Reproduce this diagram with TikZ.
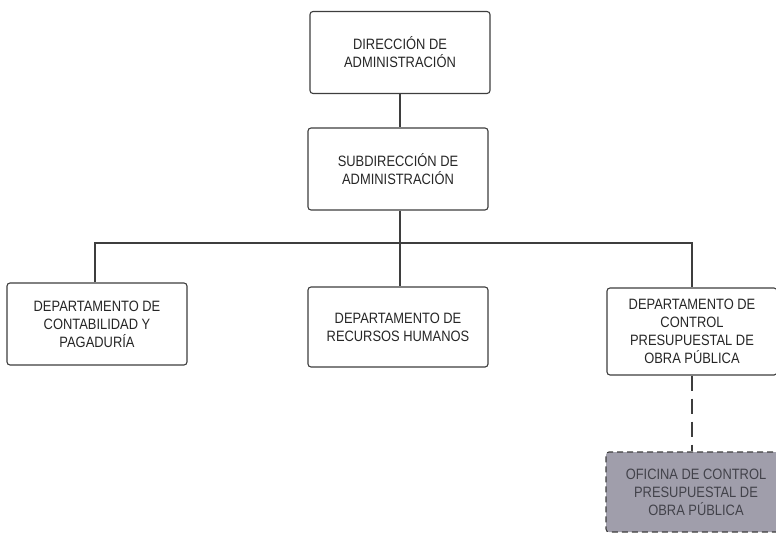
\documentclass[tikz,border=0pt]{standalone}
\usepackage{fontspec}
\setmainfont{Liberation Sans}[FakeStretch=0.86]
\usepackage{tikz}
\usetikzlibrary{positioning}
\definecolor{linegray}{RGB}{62,62,62}
\definecolor{officegray}{RGB}{160,158,171}
\definecolor{officetext}{RGB}{66,66,74}

\begin{document}
\begin{tikzpicture}[x=1pt,y=-1pt,
    unit/.style={draw=linegray,line width=1.1pt,rounded corners=3pt,fill=white,
      align=center,inner sep=0pt,minimum width=180pt,minimum height=82pt,
      font=\fontsize{15}{18}\selectfont,text=black!85},
    office/.style={unit,dashed,dash pattern=on 6pt off 4pt,fill=officegray,text=officetext,
      minimum width=180pt,minimum height=80pt},
    link/.style={draw=linegray,line width=1.1pt}]
      \useasboundingbox (0,0) rectangle (776,533);
      \node [unit] (dir) at (400,52.5) {DIRECCIÓN DE\\ADMINISTRACIÓN};
      \node [unit] (sub) at (398,169) {SUBDIRECCIÓN DE\\ADMINISTRACIÓN};
      \node [unit] (cont) at (97,324) {DEPARTAMENTO DE\\CONTABILIDAD Y\\PAGADURÍA};
      \node [unit,minimum height=80pt] (rh) at (398,327) {DEPARTAMENTO DE\\RECURSOS HUMANOS};
      \node [unit,minimum width=170pt,minimum height=87pt] (ctrl) at (692,331.5) {DEPARTAMENTO DE\\CONTROL\\PRESUPUESTAL DE\\OBRA PÚBLICA};
      \node [office] (ofi) at (696,492) {OFICINA DE CONTROL\\PRESUPUESTAL DE\\OBRA PÚBLICA};
      \coordinate (busL) at (95,243);
      \coordinate (busM) at (400,243);
      \coordinate (busR) at (692,243);
      \draw [link] (dir.south -| busM) -- (sub.north -| busM);
      \draw [link] (sub.south -| busM) -- (busM);
      \draw [link] (busL |- cont.north) -- (busL) -- (busR) -- (ctrl.north);
      \draw [link] (busM) -- (rh.north -| busM);
      \draw [link,dashed,dash pattern=on 15pt off 8pt] (ctrl.south) -- (ofi.north -| ctrl.south);
    \end{tikzpicture}
\end{document}
